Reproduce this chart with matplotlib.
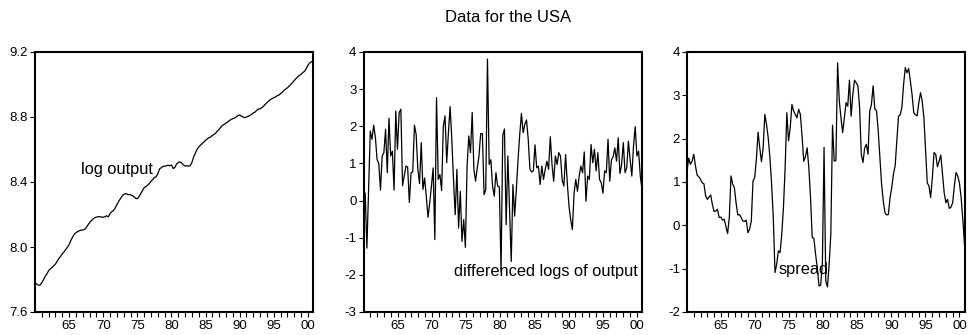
import numpy as np
import matplotlib
matplotlib.use("Agg")
import matplotlib.pyplot as plt

plt.rcParams['font.family'] = ['Liberation Sans', 'DejaVu Sans']

# quarterly data, 1960Q1 - 2000Q4
start_year = 1960.0
end_year = 2000.75

log_output = [
    7.778, 7.772, 7.765, 7.766, 7.780, 7.800, 7.820, 7.835,
    7.855, 7.865, 7.875, 7.885, 7.895, 7.912, 7.930, 7.942,
    7.958, 7.970, 7.985, 7.998, 8.015, 8.040, 8.060, 8.078,
    8.088, 8.095, 8.100, 8.104, 8.105, 8.108, 8.118, 8.135,
    8.150, 8.162, 8.172, 8.180, 8.184, 8.186, 8.187, 8.184,
    8.183, 8.186, 8.192, 8.186, 8.205, 8.218, 8.224, 8.240,
    8.260, 8.280, 8.296, 8.312, 8.324, 8.328, 8.325, 8.322,
    8.322, 8.316, 8.310, 8.300, 8.297, 8.310, 8.328, 8.345,
    8.365, 8.372, 8.380, 8.390, 8.405, 8.415, 8.428, 8.432,
    8.450, 8.480, 8.488, 8.496, 8.497, 8.500, 8.503, 8.500,
    8.505, 8.483, 8.490, 8.510, 8.520, 8.524, 8.516, 8.505,
    8.498, 8.500, 8.497, 8.500, 8.520, 8.553, 8.578, 8.600,
    8.615, 8.626, 8.636, 8.646, 8.656, 8.665, 8.673, 8.677,
    8.687, 8.693, 8.702, 8.714, 8.724, 8.738, 8.749, 8.755,
    8.763, 8.769, 8.779, 8.784, 8.790, 8.794, 8.800, 8.810,
    8.812, 8.806, 8.800, 8.796, 8.800, 8.804, 8.810, 8.816,
    8.825, 8.830, 8.841, 8.849, 8.851, 8.857, 8.866, 8.878,
    8.888, 8.898, 8.907, 8.913, 8.919, 8.923, 8.931, 8.935,
    8.944, 8.952, 8.964, 8.972, 8.980, 8.989, 9.001, 9.013,
    9.026, 9.036, 9.046, 9.056, 9.063, 9.073, 9.081, 9.097,
    9.118, 9.132, 9.140, 9.142,
]

diff_log_output = [
    -0.47, 0.20, -1.28, 0.30, 1.87, 1.65, 2.03, 1.70, 1.10, 1.00,
    0.28, 1.20, 1.29, 1.92, 0.75, 2.22, 1.20, 1.33, 0.28, 2.41,
    1.38, 2.37, 2.46, 0.40, 0.66, 0.93, 0.90, -0.05, 0.75, 0.77,
    2.03, 1.78, 0.84, 0.46, 1.56, 0.30, 0.61, 0.10, -0.45, -0.06,
    0.39, 0.88, -1.05, 2.77, 0.57, 0.70, 0.27, 2.00, 2.28, 1.02,
    1.83, 2.53, 1.65, 0.57, -0.38, 0.84, -0.74, 0.25, -1.10, -0.51,
    -1.26, 0.93, 1.74, 1.29, 2.37, 0.84, 0.52, 0.88, 1.20, 1.80,
    1.80, 0.16, 0.30, 3.81, 0.97, 1.10, 0.39, 0.12, 0.75, 0.39,
    0.37, -1.90,
    1.75, 1.93, -0.65, 1.20, -0.20, -1.64, 0.43, -0.42, 0.30, 1.10,
    1.78, 2.35, 1.83, 2.05, 2.17, 1.65, 0.84, 0.77, 0.80,
    1.50, 0.88, 0.93, 0.43, 0.93, 0.57, 0.84, 1.06, 0.84,
    1.72, 0.97, 0.52, 1.20, 0.97, 1.29, 1.20, 0.55, 0.39,
    1.24, 0.48, -0.15, -0.51, -0.78, 0.20, 0.57, 0.25, 0.66, 0.93,
    0.75, 1.31, -0.02, 0.66, 0.57, 1.51, 1.02, 1.38, 0.80,
    1.29, 0.57, 0.48, 0.20, 0.80, 0.75, 1.65, 0.52, 1.10,
    1.18, 1.42, 1.06, 1.69, 0.73, 0.97, 1.56, 0.75, 0.88,
    1.60, 1.10, 0.66, 1.47, 1.99, 1.20, 1.33, 0.66, 0.30,
]

spread = [
    1.25, 1.55, 1.41, 1.48, 1.64, 1.37, 1.16, 1.12, 1.06, 0.98,
    0.96, 0.68, 0.60, 0.65, 0.70, 0.48, 0.32, 0.33, 0.37, 0.18,
    0.19, 0.12, 0.14, -0.03, -0.19, 0.18, 1.14, 0.95, 0.87, 0.52,
    0.24, 0.25, 0.18, 0.10, 0.09, 0.12, -0.17, -0.09, 0.10, 1.02,
    1.10, 1.52, 2.15, 1.79, 1.47, 1.79, 2.56, 2.33, 2.02, 1.56,
    0.95, 0.18, -1.09, -0.90, -0.59, -0.63, -0.21, 0.41, 1.33, 2.60,
    1.95, 2.25, 2.79, 2.64, 2.56, 2.48, 2.68, 2.56, 2.06, 1.48,
    1.58, 1.79, 1.33, 0.64, -0.28, -0.30, -0.67, -0.98, -1.40, -1.38,
    -0.90, 1.80,
    -1.28, -1.42, -0.90, -0.20, 2.31, 1.48, 1.50, 3.75, 2.87, 2.48,
    2.14, 2.48, 2.83, 2.75, 3.35, 2.52, 3.02, 3.35, 3.29, 3.22,
    2.72, 1.64, 1.45, 1.79, 1.87, 1.64, 2.64, 2.79, 3.22, 2.68,
    2.65, 2.18, 1.56, 0.95, 0.56, 0.29, 0.24, 0.25, 0.64, 0.87,
    1.18, 1.37, 1.95, 2.52, 2.55, 2.72, 3.25, 3.64, 3.52, 3.62,
    3.33, 3.02, 2.60, 2.55, 2.53, 2.83, 3.06, 2.87, 2.48, 1.72,
    0.98, 0.91, 0.64, 1.10, 1.68, 1.64, 1.35, 1.48, 1.62, 1.18,
    0.75, 0.52, 0.60, 0.39, 0.42, 0.52, 0.91, 1.22, 1.14, 0.98,
    0.64, 0.14, -0.44,
]

years = list(range(1961, 2001))
year_labels = [("%02d" % (y % 100)) if y % 5 == 0 else "" for y in years]

fig = plt.figure(figsize=(9.69, 3.35), dpi=100)
W, H = 969.0, 335.0

def make_axes(left, right, yticks, ylabels):
    ax = fig.add_axes([left / W, 23 / H, (right - left) / W, 260 / H])
    ax.set_xlim(start_year, end_year)
    ax.set_ylim(yticks[0], yticks[-1])
    ax.set_yticks(yticks)
    ax.set_yticklabels(ylabels)
    ax.set_xticks(years)
    ax.set_xticklabels(year_labels)
    ax.tick_params(direction='out', length=3.5, width=0.8, labelsize=9.5,
                   pad=1.5, colors='black')
    ax.tick_params(axis='x', pad=2.5)
    for s in ax.spines.values():
        s.set_linewidth(1.5)
    return ax

def series_x(vals):
    return np.linspace(start_year, end_year, len(vals))

ax1 = make_axes(35, 313, [7.6, 8.0, 8.4, 8.8, 9.2], ['7.6', '8.0', '8.4', '8.8', '9.2'])
ax1.plot(series_x(log_output), log_output, color='black', lw=0.9)
ax1.text(1966.7, 8.474, 'log output', fontsize=11.8, va='center', ha='left')

ax2 = make_axes(363.5, 642, list(range(-3, 5)), [str(v) for v in range(-3, 5)])
ax2.plot(series_x(diff_log_output), diff_log_output, color='black', lw=0.9)
ax2.text(1973.3, -1.92, 'differenced logs of output', fontsize=11.8, va='center', ha='left')

ax3 = make_axes(687, 964.5, list(range(-2, 5)), [str(v) for v in range(-2, 5)])
ax3.plot(series_x(spread), spread, color='black', lw=0.9)
ax3.text(1973.4, -1.03, 'spread', fontsize=11.8, va='center', ha='left')

fig.text(508 / W, 1 - 17 / H, 'Data for the USA', ha='center', va='center', fontsize=12)

fig.savefig('out.png', dpi=100)
